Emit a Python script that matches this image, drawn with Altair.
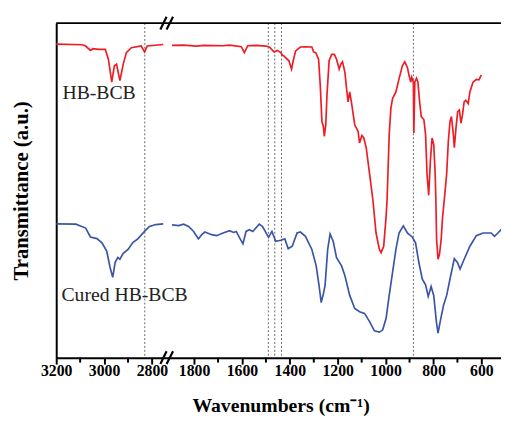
import altair as alt
import pandas as pd

# ---- Data (wavenumber in cm-1, transmittance in arbitrary units) ----
red_w1 = [3200, 3092, 3077, 3057, 3046, 3023, 2995, 2982, 2968, 2957, 2948, 2934, 2920, 2907, 2886, 2845, 2831, 2820, 2753]
red_t1 = [318.7, 318, 316.7, 312.3, 314, 313.3, 313.3, 303.3, 280, 296.7, 298.3, 281.7, 298.3, 310, 315, 316.7, 310.7, 316.7, 318.3]

red_w2 = [1892, 1844, 1789, 1761, 1679, 1652, 1603, 1590, 1576, 1541, 1500, 1486, 1466, 1452, 1438, 1431, 1425, 1418,
          1404, 1393, 1386, 1376, 1356, 1335, 1308, 1301, 1292, 1280, 1273, 1266, 1260, 1256, 1250, 1245, 1236, 1225,
          1214, 1205, 1194, 1187, 1180, 1170, 1163, 1157, 1150, 1143, 1129, 1115, 1109, 1099, 1091, 1081, 1067, 1053,
          1040, 1026, 1019, 1008, 998, 994, 985, 978, 971, 957, 944, 930, 920, 909, 902, 895, 891, 884, 882, 878, 871,
          865, 858, 851, 840, 833, 827, 820, 813, 806, 799, 793, 790, 787, 781, 775, 768, 762, 755, 745, 738, 731, 725,
          717, 713, 706, 699, 692, 685, 679, 672, 665, 655, 648, 635, 621, 610, 600]
red_t2 = [317.3, 317.7, 316.7, 317.3, 317, 317.7, 316, 310, 317, 317.3, 316.7, 315.7, 310.7, 312.3, 310, 307.3, 306.7, 305,
          301.7, 293.3, 301.7, 311.7, 315.7, 316, 315.7, 310.7, 310, 303.3, 276.7, 240, 235, 225, 236.7, 266.7, 301.7, 308.3,
          308.3, 303.3, 293.3, 298.3, 300.7, 290, 273.3, 260, 270, 260, 236.7, 230, 218.3, 225.7, 223.3, 213.3, 186.7, 160,
          126.7, 110, 106.7, 113.3, 143.3, 160, 226.7, 253.3, 263.3, 270, 283.3, 296.7, 300.7, 295, 286.7, 280, 285, 280, 228.3, 280, 284,
          280, 260, 245, 241.7, 226.7, 186.7, 165, 200, 223.3, 216.7, 187, 160, 120, 100, 105, 120, 143, 160, 186.7, 220, 240, 245,
          226.7, 213.3, 233.3, 250, 251.7, 238.3, 246.7, 260, 261.7, 258.3, 270, 280, 282.7, 282.3, 287.3]

blue_w1 = [3200, 3118, 3077, 3057, 3030, 3009, 2989, 2975, 2964, 2954, 2943, 2934, 2920, 2900, 2879, 2859, 2831, 2811, 2784, 2753]
blue_t1 = [136, 135.7, 131.7, 122.7, 121, 116.7, 108.3, 91.7, 81.7, 96.7, 101.7, 100, 106, 110, 117.3, 120.7, 128.3, 133.3, 135.3, 136]

blue_w2 = [1892, 1864, 1844, 1823, 1802, 1782, 1768, 1755, 1727, 1706, 1679, 1652, 1635, 1624, 1610, 1596, 1583, 1569, 1555,
           1528, 1514, 1489, 1475, 1459, 1438, 1421, 1407, 1390, 1370, 1356, 1335, 1308, 1290, 1278, 1269, 1260, 1253, 1242,
           1232, 1219, 1205, 1184, 1170, 1150, 1129, 1109, 1088, 1067, 1047, 1026, 1012, 998, 985, 971, 957, 944, 926, 909,
           889, 875, 861, 847, 833, 822, 810, 799, 788, 781, 772, 758, 745, 731, 713, 700, 689, 675, 648, 621, 593, 559, 545,
           531, 515]
blue_t2 = [135, 134.3, 135.7, 133.3, 128.3, 120.7, 125, 127.7, 125, 124, 126.7, 129, 127.3, 128.3, 121.7, 115.7, 128.3, 130, 128.3,
           135.7, 133.3, 122.3, 128.3, 118.3, 119.3, 120.7, 110.7, 113.3, 126.7, 127.7, 123.3, 110, 93.3, 73.3, 56, 65, 73.3, 110,
           125.7, 118.3, 101.7, 93.3, 83.3, 63.3, 50, 46.7, 45, 36.7, 27.3, 26, 28.3, 40, 63.3, 86.7, 110, 126.7, 134, 126.7,
           122.7, 116.7, 96.7, 80, 74, 62.3, 72.3, 63.3, 36.7, 25, 36.7, 53.3, 63.3, 80, 100.7, 96.7, 90, 98.3, 113.3, 124, 126.7, 126.7, 123.3,
           126.7, 130.7]

marker_w = [2830, 1490, 1463, 1435, 884]

label_text = ["HB-BCB", "Cured HB-BCB"]
label_w = [3174, 3178]
label_t = [263, 58]

major_w = [3200, 3000, 2800, 1800, 1600, 1400, 1200, 1000, 800, 600]
minor_w = [3100, 2900, 1700, 1500, 1300, 1100, 900, 700]

# ---- broken-axis mapping: position p (same units as cm-1) ----
P_BREAK = 468          # position of the axis break
W_RESUME = 1908        # wavenumber right after the break
OFFSET = P_BREAK + W_RESUME


def pos(w):
    return 3200 - w if w > 2000 else OFFSET - w


P_END = 1858
W, H = 452, 340
FONT = "Liberation Serif"
RED = "#ee1d25"
BLUE = "#3a55a5"

rows = []
for name, seg, ws, ts in [("HB-BCB", "r1", red_w1, red_t1), ("HB-BCB", "r2", red_w2, red_t2),
                          ("Cured HB-BCB", "b1", blue_w1, blue_t1), ("Cured HB-BCB", "b2", blue_w2, blue_t2)]:
    for w, t in zip(ws, ts):
        rows.append({"w": w, "t": t, "series": name, "seg": seg})
df = pd.DataFrame(rows)

calc = f"datum.w > 2000 ? 3200 - datum.w : {OFFSET} - datum.w"

xscale = alt.Scale(domain=[0, P_END], nice=False, zero=False)
yscale = alt.Scale(domain=[0, H], nice=False, zero=False)

wexpr = f"(datum.value < {P_BREAK} ? 3200 - datum.value : {OFFSET} - datum.value)"

xaxis = alt.Axis(
    values=[pos(w) for w in major_w],
    labelExpr=f"'' + round({wexpr})",
    ticks=True, tickSize=6.5, tickWidth=2, tickColor="black",
    domainColor="black", domainWidth=2,
    labelFont=FONT, labelFontSize=16, labelFontWeight="bold", labelColor="black",
    labelBaseline="alphabetic", labelPadding=12, labelFlush=False, labelOverlap=False,
    title="Wavenumbers (cm⁻¹)", titleFont=FONT, titleFontSize=20, titleFontWeight="bold",
    titleColor="black", titleBaseline="alphabetic", titleY=55, titleX=228,
    grid=False,
)
yaxis = alt.Axis(
    ticks=False, labels=False, grid=False, domainColor="black", domainWidth=2,
    title="Transmittance (a.u.)", titleFont=FONT, titleFontSize=21, titleFontWeight="bold",
    titleColor="black", titleBaseline="alphabetic", titleX=-29, titleY=H / 2,
)

lines = alt.Chart(df).transform_calculate(p=calc).mark_line(strokeWidth=1.7).encode(
    x=alt.X("p:Q", scale=xscale, axis=xaxis),
    y=alt.Y("t:Q", scale=yscale, axis=yaxis),
    color=alt.Color("series:N", scale=alt.Scale(domain=["HB-BCB", "Cured HB-BCB"], range=[RED, BLUE]), legend=None),
    detail="seg:N",
    order="p:Q",
)

# minor ticks (shorter, unlabeled) below the bottom axis
minor = alt.Chart(pd.DataFrame({"w": minor_w})).transform_calculate(p=calc).mark_rule(
    color="black", strokeWidth=2
).encode(x=alt.X("p:Q", scale=xscale), y=alt.value(H), y2=alt.value(H + 5))

markers = alt.Chart(pd.DataFrame({"w": marker_w})).transform_calculate(p=calc).mark_rule(
    strokeDash=[2, 2], color="#666666", strokeWidth=1
).encode(x=alt.X("p:Q", scale=xscale))

labels = alt.Chart(pd.DataFrame({"w": label_w, "t": label_t, "text": label_text})).transform_calculate(p=calc).mark_text(
    align="left", baseline="alphabetic", font=FONT, fontSize=20, color="#222222"
).encode(x=alt.X("p:Q", scale=xscale), y=alt.Y("t:Q", scale=yscale), text="text:N")

top_line = alt.Chart(pd.DataFrame({"a": [0]})).mark_rule(color="black", strokeWidth=2).encode(
    x=alt.value(0), x2=alt.value(W), y=alt.value(0)
)

# break marks "//" on top and bottom frame lines
bx0 = [435, 461, 435, 461]
bx1 = [461, 488, 461, 488]
by0 = [H - 6.5, H - 6.5, -6.5, -6.5]
by1 = [H + 6.5, H + 6.5, 6.5, 6.5]
breaks = alt.Chart(pd.DataFrame({"x0": bx0, "x1": bx1, "y0": by0, "y1": by1})).mark_rule(
    color="black", strokeWidth=2.2
).encode(
    x=alt.X("x0:Q", scale=xscale), x2="x1:Q",
    y=alt.Y("y0:Q", scale=yscale), y2="y1:Q",
)

chart = alt.layer(markers, lines, labels, minor, top_line, breaks).properties(
    width=W, height=H,
    autosize=alt.AutoSizeParams(type="none"),
    padding={"left": 49, "top": 12, "right": 0, "bottom": 62},
    background="white",
).configure_view(stroke=None)

chart.save("out.html", embed_options={"renderer": "svg", "actions": False})
